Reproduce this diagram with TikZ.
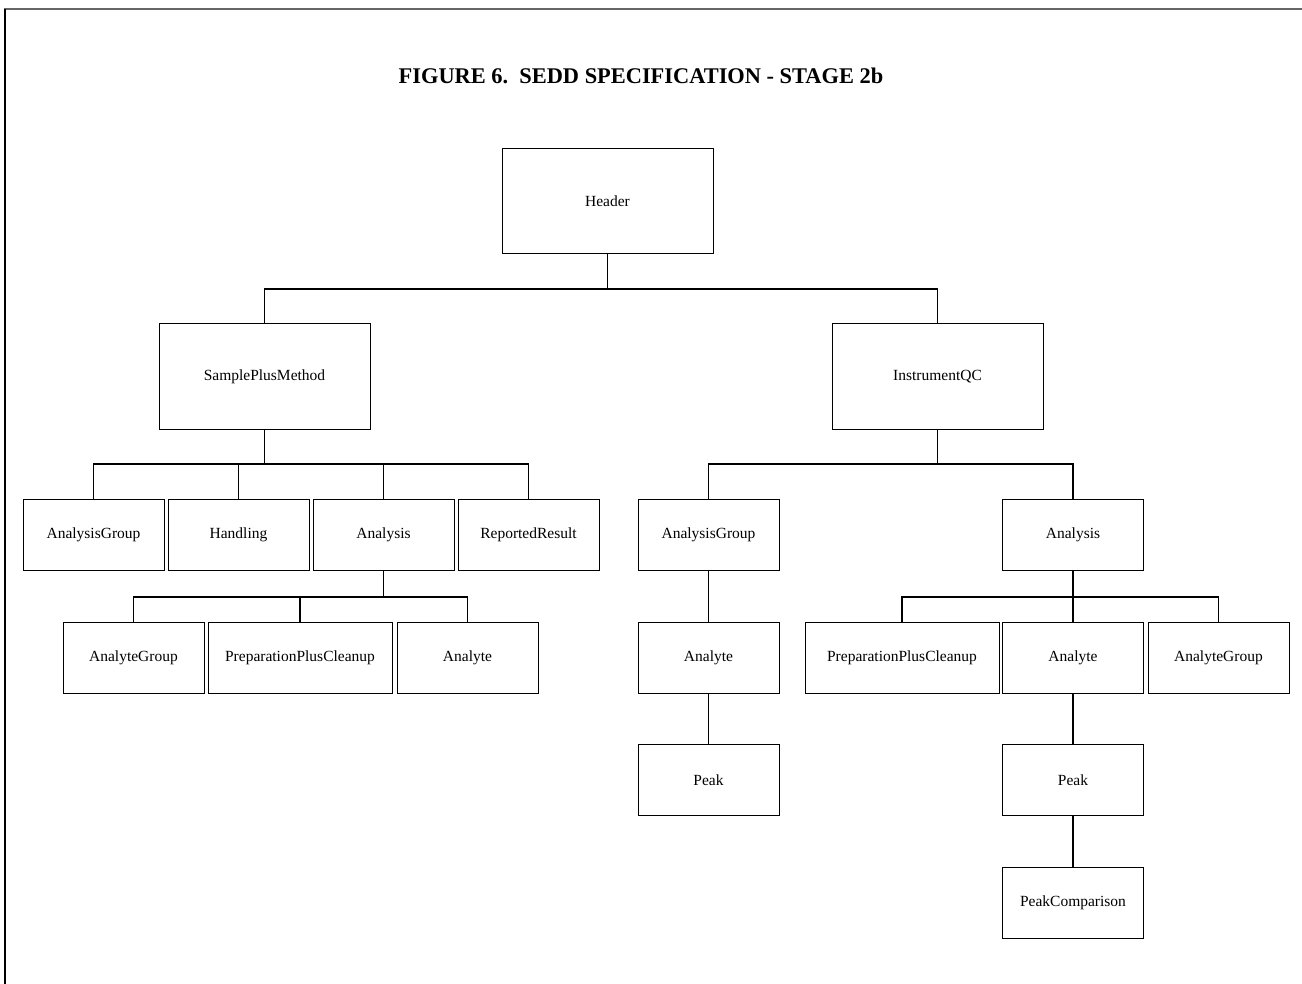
\documentclass[tikz,border=0pt]{standalone}
\usepackage{fontspec}
\setmainfont{Liberation Serif}
\begin{document}
\begin{tikzpicture}[x=1pt,y=-1pt,
  box/.style={draw,line width=1pt,inner sep=0pt,minimum width=141pt,minimum height=71pt,font=\fontsize{15.5}{18}\selectfont},
  bigbox/.style={box,minimum width=211pt,minimum height=105pt},
  link/.style={line width=1.4pt}]
\useasboundingbox (0,0) rectangle (1302,984);
% page frame
\draw[line width=2pt,black!60] (4,9) -- (1302,9);
\draw[line width=2pt] (4.5,9) -- (4.5,984);
% title
\node (title) [font=\fontsize{22.4}{26}\selectfont\bfseries] at (641,76) {FIGURE 6.\ \ SEDD SPECIFICATION - STAGE 2b};
% top levels
\node[bigbox] (header) at (607.5,201) {Header};
\node[bigbox] (spm) at (264.5,376.5) {SamplePlusMethod};
\node[bigbox] (iqc) at (937.5,376.5) {InstrumentQC};
% SamplePlusMethod children
\node[box] (ag1) at (93.5,534.5) {AnalysisGroup};
\node[box] (hand) at (238.5,534.5) {Handling};
\node[box] (an1) at (383.5,534.5) {Analysis};
\node[box] (rr) at (528.5,534.5) {ReportedResult};
\node[box] (alyg1) at (133.5,657.5) {AnalyteGroup};
\node[box,minimum width=184pt] (prep1) at (300,657.5) {PreparationPlusCleanup};
\node[box] (aly1) at (467.5,657.5) {Analyte};
% InstrumentQC children
\node[box] (ag2) at (708.5,534.5) {AnalysisGroup};
\node[box] (an2) at (1073,534.5) {Analysis};
\node[box] (aly2) at (708.5,657.5) {Analyte};
\node[box] (peak1) at (708.5,780) {Peak};
\node[box,minimum width=194pt] (prep2) at (902,657.5) {PreparationPlusCleanup};
\node[box] (aly3) at (1073,657.5) {Analyte};
\node[box] (alyg2) at (1218.5,657.5) {AnalyteGroup};
\node[box] (peak2) at (1073,780) {Peak};
\node[box] (pc) at (1073,903) {PeakComparison};
% branch points
\coordinate (b1) at (607.5,289);
\coordinate (b2) at (264.5,464);
\coordinate (b3) at (383.5,597);
\coordinate (b4) at (937.5,464);
\coordinate (b5) at (1073,597);
% connectors
\draw[link] (header.south) -- (b1);
\draw[link] (b1) -| (spm.north);
\draw[link] (b1) -| (iqc.north);
\draw[link] (spm.south) -- (b2);
\draw[link] (b2) -| (ag1.north);
\draw[link] (b2) -| (hand.north);
\draw[link] (b2) -| (an1.north);
\draw[link] (b2) -| (rr.north);
\draw[link] (an1.south) -- (b3);
\draw[link] (b3) -| (alyg1.north);
\draw[link] (b3) -| (prep1.north);
\draw[link] (b3) -| (aly1.north);
\draw[link] (iqc.south) -- (b4);
\draw[link] (b4) -| (ag2.north);
\draw[link] (b4) -| (an2.north);
\draw[link] (ag2.south) -- (aly2.north);
\draw[link] (aly2.south) -- (peak1.north);
\draw[link] (an2.south) -- (b5);
\draw[link] (b5) -| (prep2.north);
\draw[link] (b5) -| (aly3.north);
\draw[link] (b5) -| (alyg2.north);
\draw[link] (aly3.south) -- (peak2.north);
\draw[link] (peak2.south) -- (pc.north);
\end{tikzpicture}
\end{document}
